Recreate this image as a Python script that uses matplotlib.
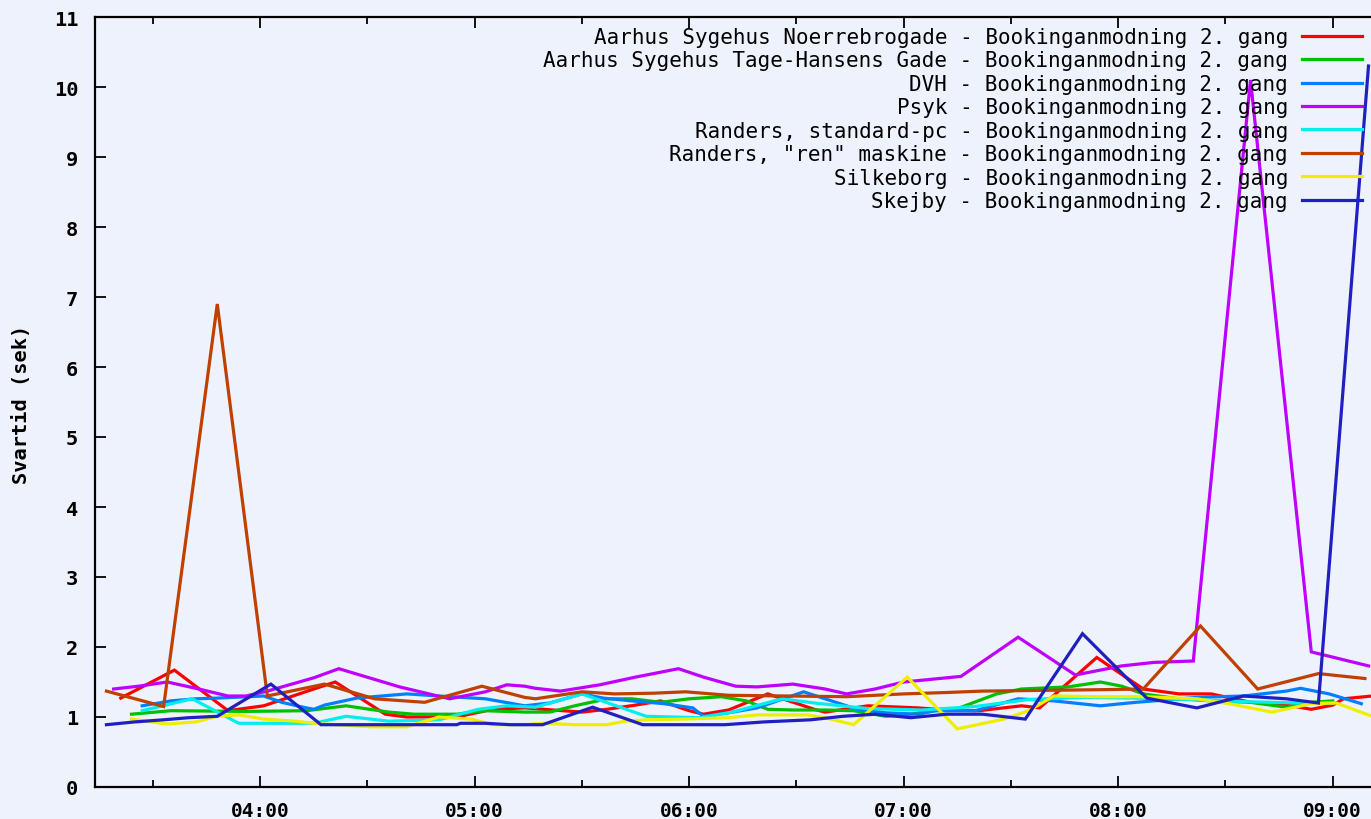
import matplotlib
matplotlib.use("Agg")
import matplotlib.pyplot as plt
from matplotlib.ticker import FixedLocator, FuncFormatter

labels = [
    "Aarhus Sygehus Noerrebrogade - Bookinganmodning 2. gang",
    "Aarhus Sygehus Tage-Hansens Gade - Bookinganmodning 2. gang",
    "DVH - Bookinganmodning 2. gang",
    "Psyk - Bookinganmodning 2. gang",
    "Randers, standard-pc - Bookinganmodning 2. gang",
    "Randers, \"ren\" maskine - Bookinganmodning 2. gang",
    "Silkeborg - Bookinganmodning 2. gang",
    "Skejby - Bookinganmodning 2. gang",
]
colors = ["#ff0000", "#00c000", "#0080ff", "#c000ff", "#00eeee", "#c04000", "#eeee00", "#2020c0"]

noerre_t = ["3:21", "3:36", "3:51", "4:01", "4:15", "4:21", "4:35", "4:41", "4:55", "5:05", "5:14", "5:30",
            "5:37", "5:45", "5:52", "6:00", "6:04", "6:11", "6:22", "6:35", "6:38", "6:50", "7:04", "7:12",
            "7:21", "7:33", "7:38", "7:54", "8:07", "8:17", "8:26", "8:37", "8:45", "8:54", "9:00", "9:03", "9:11"]
noerre_v = [1.27, 1.67, 1.09, 1.16, 1.40, 1.50, 1.04, 1.00, 1.00, 1.11, 1.13, 1.07,
            1.11, 1.17, 1.23, 1.09, 1.04, 1.10, 1.33, 1.11, 1.07, 1.16, 1.13, 1.10,
            1.09, 1.16, 1.13, 1.85, 1.40, 1.33, 1.33, 1.21, 1.19, 1.11, 1.17, 1.26, 1.30]

tage_t = ["3:24", "3:35", "3:56", "4:13", "4:24", "4:36", "4:43", "4:55", "5:03", "5:14", "5:21", "5:28",
          "5:37", "5:44", "5:52", "6:00", "6:09", "6:16", "6:22", "6:29", "6:38", "6:46", "6:55", "7:02",
          "7:08", "7:14", "7:26", "7:33", "7:46", "7:55", "8:01", "8:07", "8:17", "8:26", "8:37", "8:47",
          "8:54", "9:00"]
tage_v = [1.04, 1.09, 1.08, 1.09, 1.16, 1.07, 1.04, 1.04, 1.09, 1.07, 1.07, 1.16,
          1.26, 1.26, 1.21, 1.26, 1.29, 1.23, 1.11, 1.10, 1.10, 1.09, 1.01, 1.04,
          1.09, 1.10, 1.33, 1.40, 1.43, 1.50, 1.44, 1.33, 1.26, 1.23, 1.21, 1.14,
          1.21, 1.23]

dvh_t = ["3:27", "3:35", "3:42", "3:48", "4:01", "4:06", "4:12", "4:15", "4:18", "4:27", "4:41", "4:50",
         "5:03", "5:14", "5:21", "5:30", "5:36", "5:44", "5:53", "6:01", "6:04", "6:11", "6:19", "6:32",
         "6:38", "6:47", "6:55", "7:04", "7:09", "7:20", "7:32", "7:42", "7:55", "8:05", "8:10", "8:22",
         "8:35", "8:47", "8:51", "8:59", "9:08"]
dvh_v = [1.16, 1.23, 1.26, 1.27, 1.30, 1.21, 1.14, 1.11, 1.17, 1.27, 1.33, 1.30,
         1.26, 1.16, 1.20, 1.33, 1.27, 1.23, 1.19, 1.13, 1.01, 1.06, 1.13, 1.36,
         1.26, 1.11, 1.06, 1.04, 1.09, 1.09, 1.26, 1.23, 1.16, 1.21, 1.23, 1.28,
         1.30, 1.37, 1.41, 1.33, 1.19]

psyk_t = ["3:19", "3:26", "3:34", "3:42", "3:51", "3:56", "4:02", "4:15", "4:22", "4:39", "4:53", "5:03",
          "5:09", "5:14", "5:17", "5:24", "5:35", "5:45", "5:57", "6:04", "6:13", "6:19", "6:29", "6:38",
          "6:44", "6:52", "7:00", "7:08", "7:16", "7:32", "7:48", "8:01", "8:10", "8:21", "8:37", "8:54",
          "9:10"]
psyk_v = [1.40, 1.44, 1.50, 1.41, 1.30, 1.30, 1.37, 1.56, 1.69, 1.43, 1.26, 1.36,
          1.46, 1.44, 1.41, 1.37, 1.46, 1.57, 1.69, 1.57, 1.44, 1.43, 1.47, 1.40,
          1.33, 1.40, 1.50, 1.54, 1.58, 2.14, 1.60, 1.73, 1.78, 1.80, 10.10, 1.93,
          1.73]

rstd_t = ["3:27", "3:41", "3:54", "4:15", "4:24", "4:36", "4:50", "5:01", "5:09", "5:17", "5:30", "5:48",
          "6:03", "6:12", "6:26", "6:35", "6:50", "7:05", "7:20", "7:35", "7:50", "8:05", "8:20", "8:35",
          "8:50", "9:00"]
rstd_v = [1.09, 1.26, 0.91, 0.91, 1.01, 0.94, 0.96, 1.11, 1.16, 1.14, 1.33, 1.01,
          0.99, 1.07, 1.26, 1.20, 1.12, 1.10, 1.15, 1.25, 1.28, 1.27, 1.25, 1.22,
          1.20, 1.20]

rren_t = ["3:17", "3:33", "3:48", "4:02", "4:18", "4:32", "4:46", "5:02", "5:14", "5:17", "5:30", "5:39",
          "5:50", "5:59", "6:11", "6:44", "7:00", "7:12", "7:22", "7:55", "8:07", "8:23", "8:39", "8:56",
          "9:09"]
rren_v = [1.37, 1.15, 6.90, 1.30, 1.47, 1.26, 1.21, 1.44, 1.28, 1.26, 1.36, 1.33,
          1.34, 1.36, 1.31, 1.29, 1.33, 1.35, 1.37, 1.39, 1.40, 2.30, 1.40, 1.62,
          1.55]

silke_t = ["3:24", "3:34", "3:42", "3:48", "3:54", "4:01", "4:10", "4:15", "4:31", "4:41", "4:50", "4:59",
           "5:05", "5:14", "5:19", "5:28", "5:37", "5:42", "5:48", "5:58", "6:11", "6:19", "6:33", "6:38",
           "6:46", "7:01", "7:15", "7:28", "7:35", "7:42", "7:55", "8:07", "8:22", "8:31", "8:43", "8:54",
           "9:01", "9:11"]
silke_v = [0.97, 0.90, 0.93, 1.01, 1.03, 0.97, 0.94, 0.91, 0.86, 0.86, 1.00, 0.97,
           0.89, 0.89, 0.91, 0.89, 0.89, 0.94, 0.96, 0.97, 0.99, 1.03, 1.03, 0.99,
           0.89, 1.57, 0.83, 0.97, 1.09, 1.30, 1.29, 1.29, 1.26, 1.19, 1.07, 1.19,
           1.20, 1.01]

skejby_t = ["3:17", "3:25", "3:33", "3:40", "3:48", "4:03", "4:17", "4:55", "4:56", "5:03", "5:10", "5:19",
            "5:33", "5:47", "6:10", "6:21", "6:34", "6:43", "6:52", "7:02", "7:12", "7:22", "7:34", "7:50",
            "8:08", "8:22", "8:35", "8:47", "8:56", "9:10"]
skejby_v = [0.89, 0.93, 0.96, 0.99, 1.01, 1.47, 0.89, 0.89, 0.91, 0.91, 0.89, 0.89,
            1.14, 0.89, 0.89, 0.93, 0.96, 1.01, 1.04, 0.99, 1.04, 1.04, 0.97, 2.19,
            1.27, 1.13, 1.30, 1.26, 1.20, 10.30]

series_t = [noerre_t, tage_t, dvh_t, psyk_t, rstd_t, rren_t, silke_t, skejby_t]
series_v = [noerre_v, tage_v, dvh_v, psyk_v, rstd_v, rren_v, silke_v, skejby_v]

hour_ticks = ["04:00", "05:00", "06:00", "07:00", "08:00", "09:00"]
y_ticks = list(range(0, 12))
x_min, x_max = "3:13.8", "9:10.7"
y_label = "Svartid (sek)"


def to_min(s):
    h, m = s.split(":")
    return int(h) * 60 + float(m)


W, H = 1371, 820
bg = "#eef2fd"
fig = plt.figure(figsize=(W / 100, H / 100), dpi=100, facecolor=bg)
ax = fig.add_axes([95 / W, 1 - 788 / H, 1 - 95 / W, (788 - 18) / H], facecolor=bg)

for t, v, c, lab in zip(series_t, series_v, colors, labels):
    ax.plot([to_min(s) for s in t], v, color=c, lw=2.3, label=lab, solid_joinstyle="miter")

ax.set_xlim(to_min(x_min), to_min(x_max))
ax.set_ylim(0, 11)

mono = "DejaVu Sans Mono"
major = [to_min(s) for s in hour_ticks]
minor = [m - 30 for m in major] + [major[-1] + 30]
ax.xaxis.set_major_locator(FixedLocator(major))
ax.xaxis.set_minor_locator(FixedLocator(minor))
ax.xaxis.set_major_formatter(FuncFormatter(lambda x, p: "%02d:%02d" % (int(x // 60), int(x % 60))))
ax.yaxis.set_major_locator(FixedLocator(y_ticks))

ax.tick_params(axis="both", which="major", direction="in", length=8, width=1.3,
               top=True, right=False, colors="black", labelsize=14.7)
ax.tick_params(axis="x", which="minor", direction="in", length=5, width=1.3, top=True)
ax.tick_params(axis="x", which="major", pad=10, labelsize=14)
ax.tick_params(axis="y", which="major", pad=12)
for lbl in ax.get_xticklabels() + ax.get_yticklabels():
    lbl.set_fontfamily(mono)
    lbl.set_fontweight("bold")

for side in ["left", "bottom", "top"]:
    ax.spines[side].set_linewidth(1.6)
ax.spines["right"].set_visible(False)

fig.text(22 / W, 1 - 404 / H, y_label, rotation=90, ha="center", va="center",
         fontfamily=mono, fontweight="bold", fontsize=14.7)

leg = ax.legend(loc="upper right", bbox_to_anchor=(1362 / W, 1 - 28 / H),
                bbox_transform=fig.transFigure, frameon=False, markerfirst=False,
                prop={"family": mono, "size": 15}, handlelength=2.9, handletextpad=0.65,
                labelspacing=0.165, borderpad=0, borderaxespad=0)
for tx in leg.get_texts():
    tx.set_ha("right")

fig.savefig("out.png", dpi=100, facecolor=bg)
